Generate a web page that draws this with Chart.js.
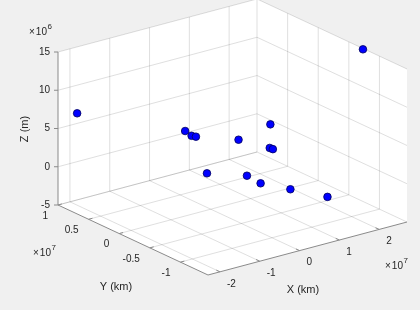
<!DOCTYPE html>
<html><head><meta charset="utf-8">
<script src="https://cdn.jsdelivr.net/npm/chart.js@4/dist/chart.umd.min.js"></script>
<style>html,body{margin:0;padding:0;background:#f0f0f0;}canvas{display:block;}</style>
</head><body>
<canvas id="c" width="420" height="310"></canvas>
<script>
// ---- data ----
const xValues = [2.67e7, -2.05e7, -0.09e7, -0.02e7, 0.15e7, 0.99e7, 0.19e7, 0.42e7, 0.56e7, 0.12e7, 0.94e7, 1.16e7, 1.17e7, 1.24e7];
const yValues = [-0.75e7, 0.85e7, 0.36e7, 0.30e7, 0.34e7, 0.19e7, -0.85e7, -0.69e7, -0.65e7, 0.14e7, 0.02e7, -0.06e7, -0.54e7, -1.10e7];
const zValues = [15e6, 7.2e6, 4.0e6, 3.5e6, 3.0e6, 2.0e6, 9.0e6, 5.0e6, 4.5e6, -1.0e6, -2.0e6, -3.0e6, -2.0e6, -1.0e6];
const xTicks = [-2e7, -1e7, 0, 1e7, 2e7];
const yTicks = [-1e7, -0.5e7, 0, 0.5e7, 1e7];
const zTicks = [-5e6, 0, 5e6, 10e6, 15e6];
const xTickLabels = ['-2', '-1', '0', '1', '2'];
const yTickLabels = ['-1', '-0.5', '0', '0.5', '1'];
const zTickLabels = ['-5', '0', '5', '10', '15'];
const xLimits = [-2.3e7, 2.7e7];
const yLimits = [-1.45e7, 1.0e7];
const zLimits = [-5e6, 15e6];
const xExponent = '7', yExponent = '7', zExponent = '6';
const xTitle = 'X (km)', yTitle = 'Y (km)', zTitle = 'Z (m)';

// ---- view (orthographic box projection, layout only) ----
const view = { ox: 208, oy: 275, ex: [199, -53], ey: [-150, -70], ez: [0, -153] };
function proj(x, y, z) {
  const u = (x - xLimits[0]) / (xLimits[1] - xLimits[0]);
  const v = (y - yLimits[0]) / (yLimits[1] - yLimits[0]);
  const w = (z - zLimits[0]) / (zLimits[1] - zLimits[0]);
  return { x: view.ox + u * view.ex[0] + v * view.ey[0] + w * view.ez[0],
           y: view.oy + u * view.ex[1] + v * view.ey[1] + w * view.ez[1] };
}
const points = xValues.map((x, i) => proj(x, yValues[i], zValues[i]));

const FONT = '"Liberation Sans", Arial, Helvetica, sans-serif';
const TXT = '#262626';

const box3d = {
  id: 'box3d',
  beforeDatasetsDraw(chart) {
    const ctx = chart.ctx, sx = chart.scales.x, sy = chart.scales.y;
    const P = (x, y, z) => { const p = proj(x, y, z); return [sx.getPixelForValue(p.x), sy.getPixelForValue(p.y)]; };
    const [x0, x1] = xLimits, [y0, y1] = yLimits, [z0, z1] = zLimits;
    ctx.save();
    const poly = [P(x0, y1, z1), P(x0, y1, z0), P(x0, y0, z0), P(x1, y0, z0), P(x1, y0, z1), P(x1, y1, z1)];
    ctx.fillStyle = '#ffffff';
    ctx.beginPath(); poly.forEach((p, i) => i ? ctx.lineTo(p[0], p[1]) : ctx.moveTo(p[0], p[1])); ctx.closePath(); ctx.fill();
    const seg = (a, b) => { ctx.moveTo(a[0], a[1]); ctx.lineTo(b[0], b[1]); };
    ctx.strokeStyle = 'rgba(38,38,38,0.15)'; ctx.lineWidth = 1;
    ctx.beginPath();
    xTicks.forEach(t => { seg(P(t, y0, z0), P(t, y1, z0)); seg(P(t, y1, z0), P(t, y1, z1)); });
    yTicks.forEach(t => { seg(P(x0, t, z0), P(x1, t, z0)); seg(P(x1, t, z0), P(x1, t, z1)); });
    zTicks.forEach(t => { seg(P(x0, y1, t), P(x1, y1, t)); seg(P(x1, y0, t), P(x1, y1, t)); });
    ctx.stroke();
    ctx.strokeStyle = '#8a8a8a'; ctx.lineWidth = 1;
    ctx.beginPath();
    seg(P(x0, y1, z0), P(x0, y1, z1));
    seg(P(x0, y0, z0), P(x0, y1, z0));
    seg(P(x0, y0, z0), P(x1, y0, z0));
    const nrm = (v, l) => { const n = Math.hypot(v[0], v[1]); return [v[0] / n * l, v[1] / n * l]; };
    const dx = nrm(view.ey, 4), dy = nrm(view.ex, 4), dz = [-4, 0];
    xTicks.forEach(t => { const p = P(t, y0, z0); seg(p, [p[0] + dx[0], p[1] + dx[1]]); });
    yTicks.forEach(t => { const p = P(x0, t, z0); seg(p, [p[0] + dy[0], p[1] + dy[1]]); });
    zTicks.forEach(t => { const p = P(x0, y1, t); seg(p, [p[0] + dz[0], p[1] + dz[1]]); });
    ctx.stroke();
    ctx.restore();
  },
  afterDraw(chart) {
    const ctx = chart.ctx, sx = chart.scales.x, sy = chart.scales.y;
    const P = (x, y, z) => { const p = proj(x, y, z); return [sx.getPixelForValue(p.x), sy.getPixelForValue(p.y)]; };
    const [x0, x1] = xLimits, [y0, y1] = yLimits, [z0, z1] = zLimits;
    ctx.save();
    ctx.fillStyle = TXT;
    ctx.font = '10px ' + FONT;
    ctx.textBaseline = 'middle';
    ctx.textAlign = 'left';
    xTicks.forEach((t, i) => { const p = P(t, y0, z0); ctx.fillText(xTickLabels[i], p[0] + 7, p[1] + 12); });
    ctx.textAlign = 'right';
    yTicks.forEach((t, i) => { const p = P(x0, t, z0); ctx.fillText(yTickLabels[i], p[0] - 10, p[1] + 11); });
    zTicks.forEach((t, i) => { const p = P(x0, y1, t); ctx.fillText(zTickLabels[i], p[0] - 8, p[1]); });
    const expo = (x, y, e) => {
      ctx.textAlign = 'left';
      ctx.font = '10px ' + FONT;
      ctx.fillText('\u00d7', x, y);
      const w1 = ctx.measureText('\u00d7').width;
      ctx.fillText('10', x + w1 + 1, y);
      const w2 = ctx.measureText('10').width;
      ctx.font = '8px ' + FONT;
      ctx.fillText(e, x + w1 + 1 + w2 + 0.5, y - 5);
    };
    expo(29, 32, zExponent);
    expo(33, 253, yExponent);
    expo(385, 266, xExponent);
    ctx.font = '11px ' + FONT;
    ctx.textAlign = 'center';
    ctx.fillText(xTitle, 303, 290);
    ctx.fillText(yTitle, 116, 287);
    ctx.translate(25, 129); ctx.rotate(-Math.PI / 2);
    ctx.fillText(zTitle, 0, 0);
    ctx.restore();
  }
};

new Chart(document.getElementById('c'), {
  type: 'scatter',
  data: { datasets: [{
    data: points,
    backgroundColor: '#0000ff',
    borderColor: '#00005a',
    borderWidth: 0.8,
    pointRadius: 3.8,
    pointHoverRadius: 3.8,
    clip: false
  }] },
  options: {
    responsive: false, animation: false, devicePixelRatio: 1,
    layout: { padding: 0, autoPadding: false },
    plugins: { legend: { display: false }, tooltip: { enabled: false } },
    events: [],
    scales: {
      x: { type: 'linear', min: 0, max: 420, display: false },
      y: { type: 'linear', min: 0, max: 310, reverse: true, display: false }
    }
  },
  plugins: [box3d]
});
</script>
</body></html>
